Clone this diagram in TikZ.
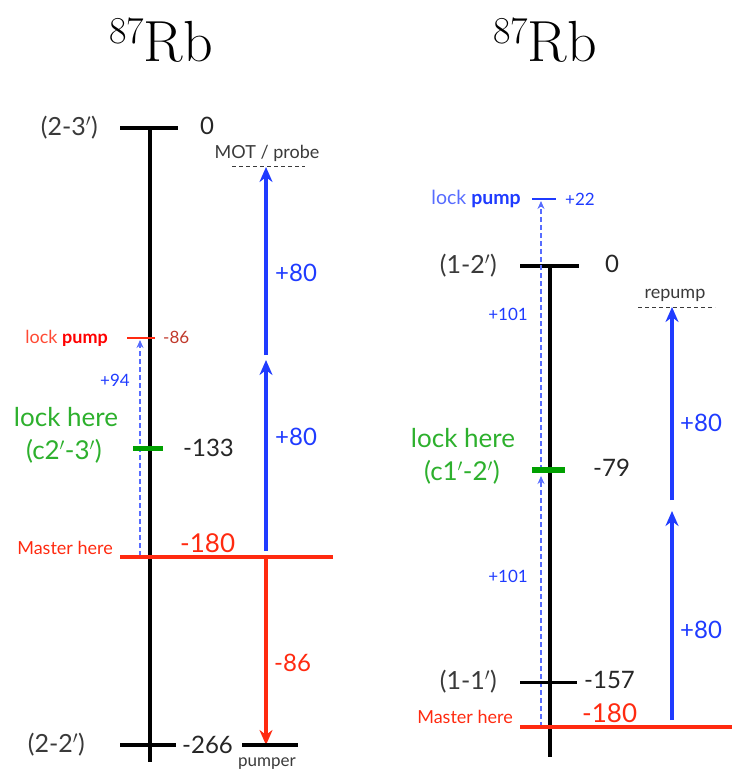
\documentclass[tikz,border=0pt]{standalone}
\usepackage{fontspec}
\setsansfont{Lato}
\usetikzlibrary{arrows.meta}
\definecolor{myblue}{HTML}{1F3BFF}
\definecolor{myred}{HTML}{FF2A10}
\definecolor{mygreen}{HTML}{2DB02D}
\definecolor{tickgreen}{HTML}{00A000}
\definecolor{mygray}{HTML}{3A3A3A}
\definecolor{brred}{HTML}{C0392B}
\newcommand{\rbtitle}{{\raisebox{18pt}{\fontsize{38}{42}\selectfont 87}\fontsize{58}{64}\selectfont Rb}}
\tikzset{
  lvl/.style={line width=4pt, black},
  txt/.style={font=\sffamily\fontsize{25}{27}\selectfont, text=mygray, inner sep=0pt},
  num/.style={font=\sffamily\fontsize{24}{26}\selectfont, text=black!85, inner sep=0pt},
  small/.style={font=\sffamily\fontsize{18}{20}\selectfont, inner sep=0pt},
  tiny/.style={font=\sffamily\fontsize{17}{19}\selectfont, inner sep=0pt},
  greentxt/.style={font=\sffamily\fontsize{26}{28}\selectfont, text=mygreen, inner sep=0pt},
  barrow/.style={line width=3.4pt, myblue, -{Stealth[length=15pt,width=13pt]}},
  rarrow/.style={line width=3.2pt, myred, -{Stealth[length=15pt,width=13pt]}},
  dasharrow/.style={line width=1.3pt, myblue!75, dash pattern=on 5pt off 3pt, -{Stealth[length=8pt,width=7pt]}},
  master/.style={line width=4.5pt, myred},
  greentick/.style={line width=5pt, tickgreen},
  titlestyle/.style={inner sep=0pt},
  dashlvl/.style={line width=1pt, mygray, dash pattern=on 4pt off 3pt}
}
\begin{document}
\begin{tikzpicture}[x=1pt,y=-1pt]
\useasboundingbox (0,0) rectangle (732,778);
% ---------------- Left panel ----------------
\node[titlestyle] (t1) at (161,40) {\rbtitle};
\coordinate (L23a) at (120,128); \coordinate (L23b) at (178,128);
\coordinate (Vtop) at (150,128); \coordinate (Vbot) at (150,762);
\draw[line width=4pt] (Vtop) -- (Vbot);
\draw[lvl] (L23a) -- (L23b);
\node[txt,anchor=east] (l23) at (98,128) {(2-3$'$)};
\node[num,anchor=west] (z1) at (200,126) {0};
% MOT / probe
\coordinate (mota) at (232,167); \coordinate (motb) at (305,167);
\draw[dashlvl] (mota) -- (motb);
\node[small,text=mygray] (mot) at (267,153) {MOT / probe};
% blue arrows
\coordinate (a1s) at (266,355); \coordinate (a1e) at (266,167);
\coordinate (a2s) at (266,551); \coordinate (a2e) at (266,360);
\draw[barrow] (a2s) -- (a2e);
\draw[barrow] (a1s) -- (a1e);
\node[num,text=myblue,anchor=west] (p80a) at (275,273) {+80};
\node[num,text=myblue,anchor=west] (p80b) at (275,437) {+80};
% lock pump
\coordinate (lpa) at (127,338); \coordinate (lpb) at (155,338);
\draw[line width=1.2pt, myred] (lpa) -- (lpb);
\node[small,anchor=east] (lp) at (108,338) {\textcolor{myred!85}{lock} \textcolor{red}{\bfseries pump}};
\node[tiny,text=brred,anchor=west] (m86) at (163,337) {-86};
% dashed blue +94
\coordinate (d1s) at (140,556); \coordinate (d1e) at (140,340);
\draw[dasharrow] (d1s) -- (d1e);
\node[tiny,text=myblue,anchor=east] (p94) at (130,380) {+94};
% green lock
\coordinate (g1a) at (133,448); \coordinate (g1b) at (163,448);
\draw[greentick] (g1a) -- (g1b);
\node[greentxt] (lh1) at (66,417) {lock here};
\node[greentxt] (lh1b) at (64,451) {(c2$'$-3$'$)};
\node[num,anchor=west] (m133) at (183,448) {-133};
% master
\coordinate (ma1) at (120,557); \coordinate (mb1) at (333,557);
\draw[master] (ma1) -- (mb1);
\node[small,text=myred,anchor=east] (mh1) at (113,548) {Master here};
\node[font=\sffamily\fontsize{26}{28}\selectfont, text=myred, inner sep=0pt, anchor=west] (m180a) at (180,543) {-180};
% red arrow
\coordinate (r1s) at (266,557); \coordinate (r1e) at (266,745);
\draw[rarrow] (r1s) -- (r1e);
\node[num,text=myred,anchor=west] (m86b) at (274,663) {-86};
% bottom level
\coordinate (b1a) at (120,745); \coordinate (b1b) at (176,745);
\coordinate (b2a) at (242,745); \coordinate (b2b) at (298,745);
\draw[lvl] (b1a) -- (b1b);
\draw[lvl] (b2a) -- (b2b);
\node[num,anchor=west] (m266) at (182,745) {-266};
\node[txt,anchor=east] (l22) at (85,745) {(2-2$'$)};
\node[tiny,text=mygray] (pumper) at (267,764) {pumper};
% ---------------- Right panel ----------------
\node[titlestyle] (t2) at (545,40) {\rbtitle};
\coordinate (V2top) at (550,266); \coordinate (V2bot) at (550,757);
\draw[line width=4pt] (V2top) -- (V2bot);
\coordinate (R12a) at (520,266); \coordinate (R12b) at (579,266);
\draw[lvl] (R12a) -- (R12b);
\node[txt,anchor=east] (l12) at (497,266) {(1-2$'$)};
\node[num,anchor=west] (z2) at (605,264) {0};
% lock pump blue
\coordinate (lp2a) at (532,199); \coordinate (lp2b) at (556,199);
\draw[line width=1.2pt, myblue] (lp2a) -- (lp2b);
\node[font=\sffamily\fontsize{19.5}{21}\selectfont, inner sep=0pt, anchor=east] (lp2) at (521,199) {\textcolor{myblue!75}{lock} \textcolor{myblue}{\bfseries pump}};
\node[tiny,text=myblue,anchor=west] (p22) at (565,199) {+22};
% dashed arrows +101
\coordinate (d2s) at (541,727); \coordinate (d2e) at (541,476);
\coordinate (d3s) at (541,470); \coordinate (d3e) at (541,201);
\draw[dasharrow] (d2s) -- (d2e);
\draw[dasharrow] (d3s) -- (d3e);
\node[tiny,text=myblue,anchor=east] (p101a) at (528,314) {+101};
\node[tiny,text=myblue,anchor=east] (p101b) at (528,576) {+101};
% green lock
\coordinate (g2a) at (532,470); \coordinate (g2b) at (565,470);
\draw[line width=6pt, tickgreen] (g2a) -- (g2b);
\node[greentxt] (lh2) at (463,438) {lock here};
\node[greentxt] (lh2b) at (462,472) {(c1$'$-2$'$)};
\node[num,anchor=west] (m79) at (593,468) {-79};
% repump
\coordinate (rpa) at (638,307); \coordinate (rpb) at (715,307);
\draw[dashlvl] (rpa) -- (rpb);
\node[small,text=mygray] (repump) at (675,295) {repump};
% blue arrows
\coordinate (a3s) at (672,500); \coordinate (a3e) at (672,307);
\coordinate (a4s) at (672,720); \coordinate (a4e) at (672,511);
\draw[barrow] (a3s) -- (a3e);
\draw[barrow] (a4s) -- (a4e);
\node[num,text=myblue,anchor=west] (p80c) at (680,423) {+80};
\node[num,text=myblue,anchor=west] (p80d) at (680,630) {+80};
% (1-1')
\coordinate (R11a) at (520,682); \coordinate (R11b) at (577,682);
\draw[line width=3pt] (R11a) -- (R11b);
\node[txt,anchor=east] (l11) at (497,682) {(1-1$'$)};
\node[num,anchor=west] (m157) at (584,680) {-157};
% master
\coordinate (ma2) at (520,727); \coordinate (mb2) at (732,727);
\draw[master] (ma2) -- (mb2);
\node[small,text=myred,anchor=east] (mh2) at (513,717) {Master here};
\node[font=\sffamily\fontsize{26}{28}\selectfont, text=myred, inner sep=0pt, anchor=west] (m180b) at (582,713) {-180};
\end{tikzpicture}
\end{document}
